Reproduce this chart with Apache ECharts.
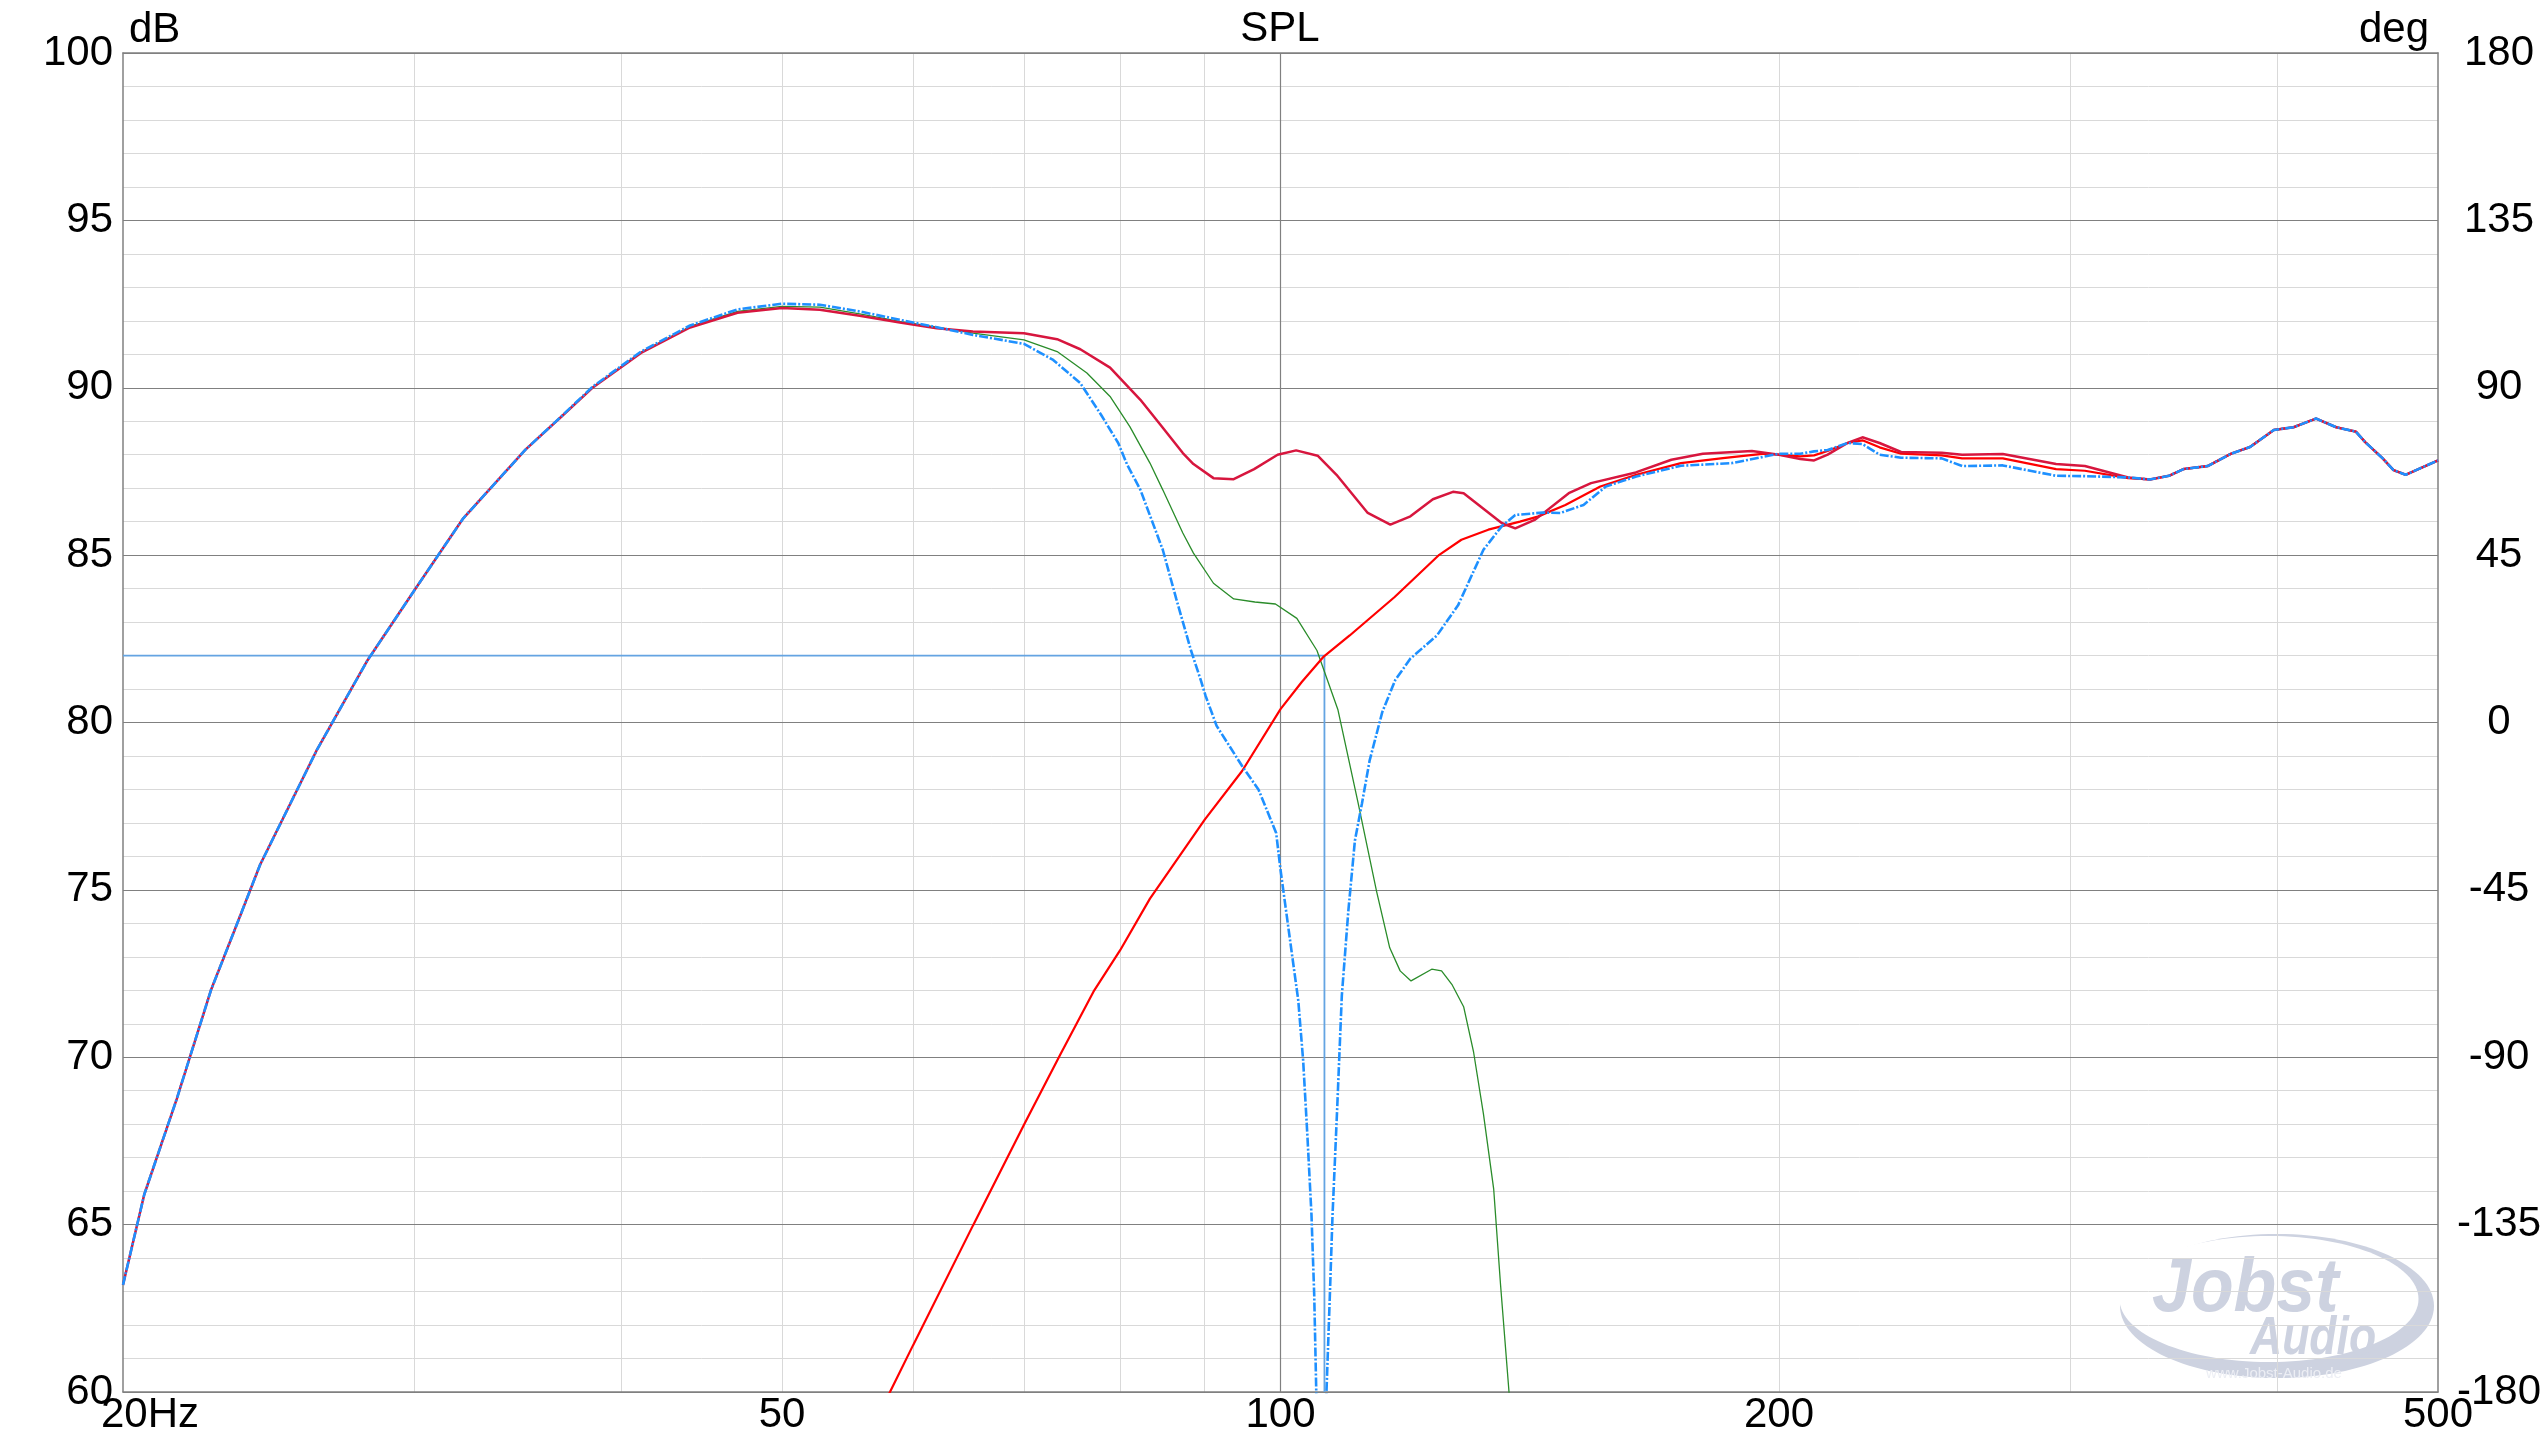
<!DOCTYPE html>
<html>
<head>
<meta charset="utf-8">
<script src="https://cdn.jsdelivr.net/npm/echarts@6/dist/echarts.min.js"></script>
<style>
html,body{margin:0;padding:0;background:#ffffff;}
#chart{width:2543px;height:1440px;}
</style>
</head>
<body>
<div id="chart"></div>
<script>
// ---- data (frequency in Hz, level in dB) ----
const sumFreq = [20,20.6,21.55,22.6,23.4,24.2,26.2,28.1,30,32.1,35,36.8,38.4,41.1,44,47,50,52.7,55.7,58.9,62,65.2,70,73.3,75.7,78.9,82.3,84.6,87.3,88.6,91.1,93.7,96.4,99.6,102.2,105.3,108.1,112.9,116.5,119.8,123.6,127.1,129,136,138.6,142.5,149.3,154,163.9,172.2,179.9,192.6,200,206,210,214,220,224.6,230,237,250.8,258,273,294,306,325,335,344,351,363,375,385,398,409,422,434,446,452,463,470,478,500];
const sumSpl  = [63.2,65.9,68.75,72.0,73.9,75.75,79.2,81.86,83.96,86.1,88.15,89.14,89.99,91.04,91.8,92.24,92.38,92.33,92.15,91.95,91.78,91.68,91.63,91.45,91.15,90.6,89.64,88.9,88.05,87.72,87.3,87.27,87.57,88.0,88.13,87.97,87.4,86.26,85.91,86.16,86.67,86.89,86.85,85.96,85.8,86.06,86.85,87.15,87.47,87.85,88.03,88.11,88.0,87.87,87.83,88.0,88.35,88.52,88.35,88.08,88.06,88.0,88.02,87.72,87.66,87.32,87.26,87.37,87.57,87.66,88.03,88.23,88.74,88.82,89.08,88.82,88.69,88.37,87.89,87.54,87.4,87.83];

const lowFreq = [20,20.6,21.55,22.6,23.4,24.2,26.2,28.1,30,32.1,35,36.8,38.4,41.1,44,47,50,52.7,55.7,58.9,62,65.2,70,73.3,76.4,78.9,81.1,83.4,84.9,87.3,88.6,91.1,93.7,96.5,99.3,102.3,105.2,108.3,111.4,114.3,116.4,118.1,119.9,123.4,125.1,126.9,129,130.8,132.6,134.5,135.8,137.4,139];
const lowSpl  = [63.2,65.9,68.75,72.0,73.9,75.75,79.2,81.86,83.96,86.1,88.15,89.14,90.0,91.06,91.83,92.28,92.43,92.41,92.21,91.98,91.81,91.63,91.43,91.08,90.44,89.74,88.84,87.75,86.95,85.66,85.06,84.16,83.69,83.6,83.54,83.11,82.15,80.39,77.59,74.95,73.27,72.58,72.28,72.63,72.58,72.18,71.51,70.15,68.31,66.07,63.19,60.0,57.0];

const highFreq = [57.3,58.1,60,65.2,70,73.6,77.1,80,83.4,90,94.8,100,103,106.1,110.1,117.2,124.7,128.6,133.5,139.5,143,148.6,156,164,174.5,185,196,206,210,214,220,224.6,230,237,250.8,258,273,294,306,325,335,344,351,363,375,385,398,409,422,434,446,452,463,470,478,500];
const highSpl  = [59.4,60.0,61.4,64.97,67.98,70.07,71.96,73.19,74.74,77.1,78.55,80.4,81.21,81.95,82.6,83.75,85.01,85.46,85.76,86.0,86.15,86.5,87.05,87.4,87.75,87.9,88.03,87.95,87.98,88.11,88.35,88.43,88.22,88.03,87.98,87.89,87.89,87.57,87.52,87.3,87.26,87.37,87.57,87.66,88.03,88.23,88.74,88.82,89.08,88.82,88.69,88.37,87.89,87.54,87.4,87.83];

const invFreq = [20,20.6,21.55,22.6,23.4,24.2,26.2,28.1,30,32.1,35,36.8,38.4,41.1,44,47,50,52.7,55.7,58.9,62,65.2,70,72.9,75.7,77.9,79.8,80.8,82.3,84.9,86.5,88.3,89.5,90.1,91.5,94.8,97,99.4,100,100.7,101.4,102.5,103.2,103.8,104.4,104.8,105.1,105.8,106.6,107.1,107.5,108.2,108.9,109.9,110.9,112,113.2,115.2,117.3,119.8,124.3,128,132.6,136,138.6,144,147.6,152.4,157.2,164,174.5,187.4,200,206,210,214,220,224.6,230,237,250.8,258,273,294,306,325,335,344,351,363,375,385,398,409,422,434,446,452,463,470,478,500];
const invSpl  = [63.2,65.9,68.75,72.0,73.9,75.75,79.2,81.86,83.96,86.1,88.15,89.15,90.02,91.08,91.86,92.34,92.51,92.48,92.28,92.03,91.81,91.58,91.31,90.83,90.14,89.2,88.35,87.7,86.95,85.16,83.7,82.15,81.27,80.8,79.9,78.7,77.99,76.7,75.6,74.5,73.4,71.7,69.9,67.7,65.3,62.9,60.0,45.0,60.0,62.87,65.27,68.47,71.84,74.39,76.47,77.59,78.87,80.31,81.27,81.91,82.6,83.5,85.16,85.86,86.2,86.27,86.26,86.5,87.05,87.35,87.67,87.75,88.03,88.03,88.1,88.14,88.35,88.32,88.0,87.91,87.89,87.66,87.68,87.37,87.36,87.32,87.26,87.37,87.57,87.66,88.03,88.23,88.74,88.82,89.08,88.82,88.69,88.37,87.89,87.54,87.4,87.83];

// cursor marker
const cursorFreq = [20, 106.3, 106.3];
const cursorSpl  = [82, 82, 60];

// axes
const xLabelFreqs = [20, 50, 100, 200, 500];
const xMinorFreqs = [30, 40, 50, 60, 70, 80, 90, 200, 300, 400];
const xMajorFreqs = [100];
const dbRange = [60, 100];
const degRange = [-180, 180];

// ---- chart ----
const L = Math.log10;
function pairs(fs, vs) { return fs.map((f, i) => [L(f), vs[i]]); }
const FONT = '"Liberation Sans", Arial, sans-serif';
const MAJOR = '#808080';
const MINOR = '#d9d9d9';
const WM = '#cdd2e0';

const chart = echarts.init(document.getElementById('chart'), null, { renderer: 'canvas' });

const lineBase = { type: 'line', symbol: 'none', showSymbol: false, silent: true, clip: true, smooth: false, xAxisIndex: 0, yAxisIndex: 0 };

const option = {
  backgroundColor: '#ffffff',
  animation: false,
  grid: { left: 123, right: 105, top: 53, bottom: 48, containLabel: false, outerBoundsMode: 'none' },
  xAxis: [
    {
      type: 'value', min: L(20), max: L(500), position: 'bottom', z: 0,
      axisLine: { show: true, onZero: false, lineStyle: { color: MAJOR, width: 1.5 } },
      axisTick: { show: false, customValues: xMinorFreqs.map(L) },
      axisLabel: {
        show: true, customValues: xLabelFreqs.map(L), color: '#000', fontSize: 42, fontFamily: FONT, margin: 2,
        formatter: function (v) {
          const f = Math.round(Math.pow(10, v));
          return f === 20 ? '{p|}20Hz' : String(f);
        },
        rich: { p: { width: 54 } }
      },
      splitLine: { show: true, lineStyle: { color: MINOR, width: 1 } }
    },
    {
      type: 'value', min: L(20), max: L(500), position: 'top', z: 1,
      axisLine: { show: true, onZero: false, lineStyle: { color: MAJOR, width: 1.5 } },
      axisTick: { show: false, customValues: xMajorFreqs.map(L) },
      axisLabel: { show: false },
      splitLine: { show: true, lineStyle: { color: MAJOR, width: 1.2 } }
    }
  ],
  yAxis: [
    {
      type: 'value', min: dbRange[0], max: dbRange[1], interval: 5, position: 'left', z: 1,
      name: 'dB', nameLocation: 'end', nameGap: 2,
      nameTextStyle: { color: '#000', fontSize: 42, fontFamily: FONT, align: 'left', verticalAlign: 'bottom', padding: [0, 0, 0, 6] },
      axisLine: { show: true, onZero: false, lineStyle: { color: MAJOR, width: 1.5 } },
      axisTick: { show: false },
      axisLabel: { color: '#000', fontSize: 42, fontFamily: FONT, margin: 10, padding: [0, 0, 11, 0] },
      splitLine: { show: true, lineStyle: { color: MAJOR, width: 1.2 } }
    },
    {
      type: 'value', min: degRange[0], max: degRange[1], interval: 45, position: 'right', z: 1,
      name: 'deg', nameLocation: 'end', nameGap: 2,
      nameTextStyle: { color: '#000', fontSize: 42, fontFamily: FONT, align: 'right', verticalAlign: 'bottom', padding: [0, 9, 0, 0] },
      axisLine: { show: true, onZero: false, lineStyle: { color: MAJOR, width: 1.5 } },
      axisTick: { show: false },
      axisLabel: { color: '#000', fontSize: 42, fontFamily: FONT, margin: 61, align: 'center', padding: [0, 0, 11, 0] },
      splitLine: { show: false }
    },
    {
      type: 'value', min: dbRange[0], max: dbRange[1], interval: 1, position: 'left', z: 0,
      axisLine: { show: false }, axisTick: { show: false }, axisLabel: { show: false },
      splitLine: { show: true, lineStyle: { color: MINOR, width: 1 } }
    }
  ],
  graphic: [
    { type: 'text', x: 1280, y: 50, z: 5, style: { text: 'SPL', fill: '#000', fontSize: 42, fontFamily: FONT, align: 'center', verticalAlign: 'bottom' } },
    // watermark (crescent swoosh + lettering), drawn beneath the grid
    { type: 'ellipse', z: -2, silent: true, shape: { cx: 2277, cy: 1306, rx: 157, ry: 72 }, style: { fill: WM } },
    { type: 'ellipse', z: -2, silent: true, shape: { cx: 2269, cy: 1299, rx: 149.5, ry: 63 }, style: { fill: '#ffffff' } },
    { type: 'text', x: 2152, y: 1328, z: -1, scaleX: 0.92, silent: true, style: { text: 'Jobst', fill: WM, fontSize: 76, fontStyle: 'italic', fontWeight: 'bold', fontFamily: FONT, align: 'left', verticalAlign: 'bottom' } },
    { type: 'text', x: 2250, y: 1366, z: -1, scaleX: 0.84, silent: true, style: { text: 'Audio', fill: WM, fontSize: 53, fontStyle: 'italic', fontWeight: 'bold', fontFamily: FONT, align: 'left', verticalAlign: 'bottom' } },
    { type: 'text', x: 2274, y: 1374, z: -1, silent: true, style: { text: 'www.Jobst-Audio.de', fill: '#eceef4', fontSize: 15, fontFamily: FONT, align: 'center', verticalAlign: 'middle' } }
  ],
  series: [
    Object.assign({}, lineBase, { name: 'Cursor', z: 2, data: pairs(cursorFreq, cursorSpl), lineStyle: { color: '#64a4e2', width: 1.8 } }),
    Object.assign({}, lineBase, { name: 'Tieftöner', z: 3, data: pairs(lowFreq, lowSpl), lineStyle: { color: '#2a8c2a', width: 1.3 } }),
    Object.assign({}, lineBase, { name: 'Hochpass', z: 3, data: pairs(highFreq, highSpl), lineStyle: { color: '#ff0000', width: 2.2 } }),
    Object.assign({}, lineBase, { name: 'Summe', z: 3, data: pairs(sumFreq, sumSpl), lineStyle: { color: '#d7163e', width: 2.5 } }),
    Object.assign({}, lineBase, { name: 'Summe invertiert', z: 3, data: pairs(invFreq, invSpl), lineStyle: { color: '#1e90ff', width: 2.6, type: [9, 2, 2, 2] } })
  ]
};
chart.setOption(option);
</script>
</body>
</html>
